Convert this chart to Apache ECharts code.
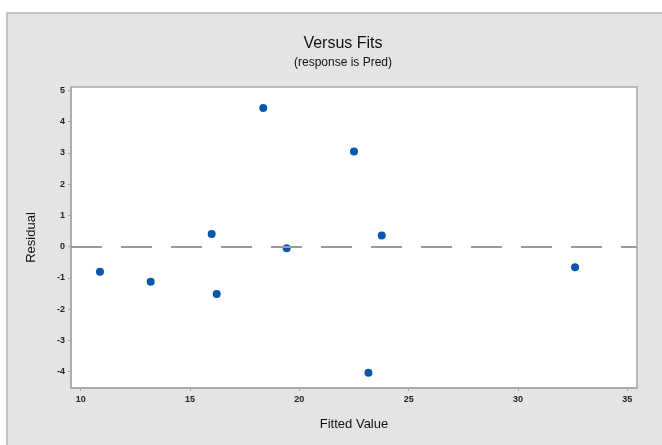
<!DOCTYPE html>
<html>
<head>
<meta charset="utf-8">
<script src="https://cdn.jsdelivr.net/npm/echarts@6/dist/echarts.min.js"></script>
<style>
html,body{margin:0;padding:0;background:#fff;}
#c{width:662px;height:445px;}
</style>
</head>
<body>
<div id="c"></div>
<script>
var fittedValues = [10.88, 13.20, 15.99, 16.22, 18.35, 19.42, 22.50, 23.16, 23.77, 32.61];
var residuals = [-0.80, -1.12, 0.41, -1.51, 4.44, -0.05, 3.05, -4.03, 0.36, -0.66];
var xTicks = [10, 15, 20, 25, 30, 35];
var yTicks = [-4, -3, -2, -1, 0, 1, 2, 3, 4, 5];
var titleText = 'Versus Fits';
var subtitleText = '(response is Pred)';
var xName = 'Fitted Value';
var yName = 'Residual';

var points = fittedValues.map(function (x, i) { return [x, residuals[i]]; });
var chart = echarts.init(document.getElementById('c'), null, {renderer: 'canvas'});
var font = '"Liberation Sans", Arial, sans-serif';
chart.setOption({
  backgroundColor: '#ffffff',
  animation: false,
  graphic: [
    {type: 'rect', z: -10, shape: {x: 7, y: 13, width: 670, height: 450},
     style: {fill: '#e4e4e4', stroke: '#b4b4b4', lineWidth: 1.5}}
  ],
  title: {
    text: titleText,
    subtext: subtitleText,
    left: 338, top: 31, textAlign: 'center', itemGap: 5,
    textStyle: {fontFamily: font, fontSize: 16, fontWeight: 'normal', color: '#111'},
    subtextStyle: {fontFamily: font, fontSize: 12, color: '#111'}
  },
  grid: {left: 71, top: 87, right: 25, bottom: 57, show: true, backgroundColor: '#ffffff',
         borderColor: '#a8a8a8', borderWidth: 1.5},
  xAxis: {
    type: 'value', min: 9.556, max: 35.444,
    name: xName, nameLocation: 'middle', nameGap: 30,
    nameTextStyle: {fontFamily: font, fontSize: 13, color: '#111'},
    axisLine: {show: true, onZero: false, lineStyle: {color: '#a8a8a8', width: 1.5}},
    axisTick: {show: true, customValues: xTicks, length: 3, lineStyle: {color: '#a8a8a8'}},
    axisLabel: {customValues: xTicks, margin: 7, fontFamily: font, fontSize: 9, fontWeight: 'bold', color: '#222'},
    splitLine: {show: false}
  },
  yAxis: {
    type: 'value', min: -4.52, max: 5.11,
    name: yName, nameLocation: 'middle', nameGap: 33, nameRotate: 90,
    nameTextStyle: {fontFamily: font, fontSize: 13, color: '#111'},
    axisLine: {show: true, onZero: false, lineStyle: {color: '#a8a8a8', width: 1.5}},
    axisTick: {show: true, customValues: yTicks, length: 3, lineStyle: {color: '#a8a8a8'}},
    axisLabel: {customValues: yTicks, margin: 6, fontFamily: font, fontSize: 9, fontWeight: 'bold', color: '#222'},
    splitLine: {show: false}
  },
  series: [{
    type: 'scatter',
    data: points,
    symbol: 'circle',
    symbolSize: 8,
    itemStyle: {color: '#0a56a8', opacity: 1},
    markLine: {
      silent: true, symbol: 'none', label: {show: false},
      lineStyle: {color: '#9a9a9a', width: 2, type: [31, 19], opacity: 1},
      data: [{yAxis: 0}]
    }
  }]
});
</script>
</body>
</html>
